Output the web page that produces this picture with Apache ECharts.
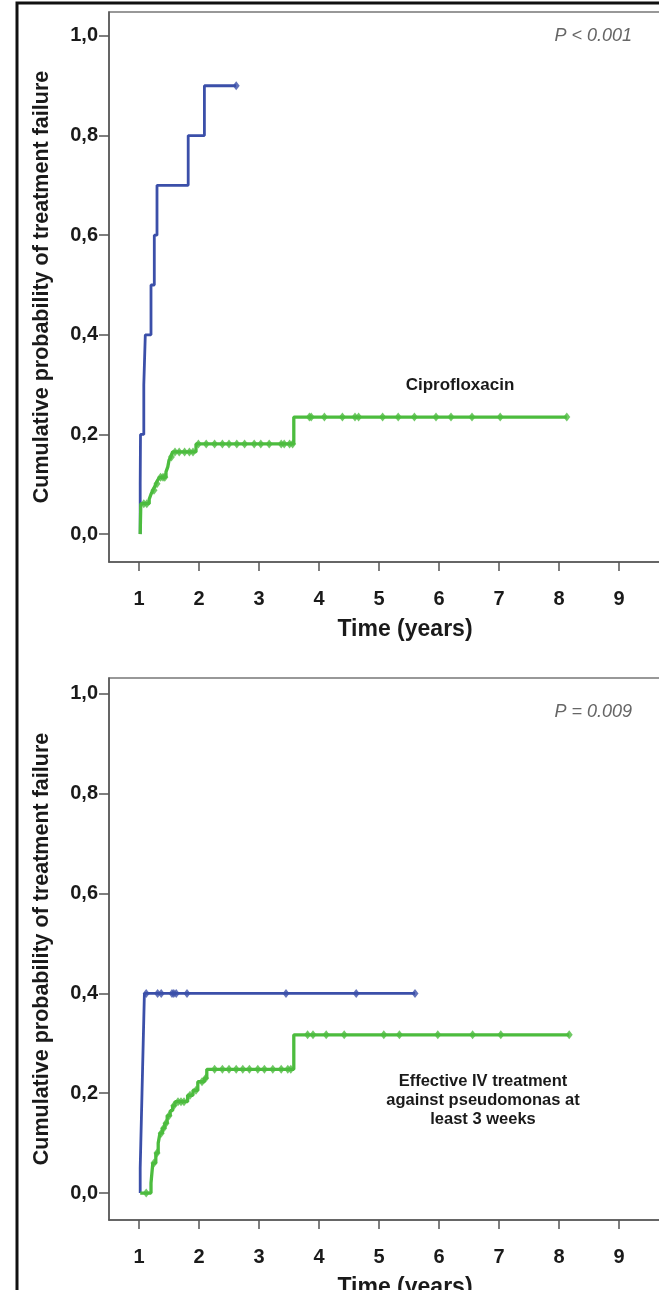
<!DOCTYPE html>
<html>
<head>
<meta charset="utf-8">
<script src="https://cdn.jsdelivr.net/npm/echarts@6.0.0/dist/echarts.min.js"></script>
<style>
html, body { margin: 0; padding: 0; background: #fff; }
#main { width: 659px; height: 1290px; }
</style>
</head>
<body>
<div id="main"></div>
<script>
// tick labels
var xTicks = [1, 2, 3, 4, 5, 6, 7, 8, 9];
var yTicks = [0, 0.2, 0.4, 0.6, 0.8, 1.0];

// top panel (Ciprofloxacin) - blue curve
var blueTopT = [1.02, 1.02, 1.025, 1.08, 1.105, 1.2, 1.255, 1.3, 1.82, 2.09, 2.62];
var blueTopV = [0, 0.1, 0.2, 0.3, 0.4, 0.5, 0.6, 0.7, 0.8, 0.9, 0.9];
var blueTopCensT = [2.62];
var blueTopCensV = [0.9];

// top panel - green curve
var greenTopT = [1.02, 1.03, 1.17, 1.2, 1.23, 1.26, 1.28, 1.31, 1.34, 1.45, 1.48, 1.5, 1.53, 1.56, 1.95, 3.58, 8.13];
var greenTopV = [0, 0.061, 0.07, 0.08, 0.088, 0.095, 0.101, 0.108, 0.114, 0.125, 0.135, 0.148, 0.155, 0.165, 0.181, 0.235, 0.235];
var greenTopCensT = [1.08, 1.13, 1.25, 1.3, 1.36, 1.4, 1.43, 1.54, 1.6, 1.67, 1.76, 1.84, 1.9,
  1.99, 2.12, 2.26, 2.39, 2.5, 2.63, 2.76, 2.92, 3.03, 3.17, 3.37, 3.42, 3.51, 3.56,
  3.84, 3.87, 4.09, 4.39, 4.6, 4.66, 5.06, 5.32, 5.59, 5.95, 6.2, 6.55, 7.02, 8.13];
var greenTopCensV = [0.061, 0.061, 0.088, 0.101, 0.114, 0.114, 0.114, 0.155, 0.165, 0.165, 0.165, 0.165, 0.165,
  0.181, 0.181, 0.181, 0.181, 0.181, 0.181, 0.181, 0.181, 0.181, 0.181, 0.181, 0.181, 0.181, 0.181,
  0.235, 0.235, 0.235, 0.235, 0.235, 0.235, 0.235, 0.235, 0.235, 0.235, 0.235, 0.235, 0.235, 0.235];

// bottom panel (IV treatment) - blue curve
var blueBotT = [1.02, 1.02, 1.03, 1.04, 1.05, 1.06, 1.07, 1.08, 1.09, 5.6];
var blueBotV = [0, 0.05, 0.1, 0.15, 0.2, 0.25, 0.3, 0.35, 0.4, 0.4];
var blueBotCensT = [1.12, 1.31, 1.37, 1.55, 1.58, 1.62, 1.8, 3.45, 4.62, 5.6];
var blueBotCensV = [0.4, 0.4, 0.4, 0.4, 0.4, 0.4, 0.4, 0.4, 0.4, 0.4];

// bottom panel - green curve
var greenBotT = [1.02, 1.2, 1.23, 1.28, 1.32, 1.35, 1.39, 1.43, 1.47, 1.52, 1.56, 1.6, 1.81, 1.9, 1.98, 2.09, 2.13, 3.58, 8.17];
var greenBotV = [0, 0.02, 0.06, 0.08, 0.1, 0.12, 0.13, 0.14, 0.155, 0.165, 0.175, 0.183, 0.196, 0.206, 0.223, 0.23, 0.248, 0.317, 0.317];
var greenBotCensT = [1.12, 1.25, 1.3, 1.37, 1.41, 1.45, 1.5, 1.58, 1.65, 1.7, 1.75, 1.85, 1.95, 2.05, 2.11,
  2.26, 2.39, 2.5, 2.62, 2.73, 2.84, 2.98, 3.09, 3.23, 3.37, 3.48, 3.53,
  3.81, 3.9, 4.12, 4.42, 5.08, 5.34, 5.98, 6.56, 7.03, 8.17];
var greenBotCensV = [0, 0.06, 0.08, 0.12, 0.13, 0.14, 0.155, 0.175, 0.183, 0.183, 0.183, 0.196, 0.206, 0.223, 0.23,
  0.248, 0.248, 0.248, 0.248, 0.248, 0.248, 0.248, 0.248, 0.248, 0.248, 0.248, 0.248,
  0.317, 0.317, 0.317, 0.317, 0.317, 0.317, 0.317, 0.317, 0.317, 0.317];

var BLUE = '#3b4fa9';
var GREEN = '#4cbc3e';
var AXIS = '#555';
var FONT = '"Liberation Sans", Arial, sans-serif';

function pairs(t, v) {
  return t.map(function (x, i) { return [x, v[i]]; });
}

function makeX(idx) {
  return {
    gridIndex: idx, type: 'value', min: 0.5, max: 10,
    axisLine: { show: true, onZero: false, lineStyle: { color: AXIS, width: 1.5 } },
    axisTick: { show: true, length: 9, customValues: xTicks, lineStyle: { color: AXIS, width: 1.5 } },
    axisLabel: { customValues: xTicks, margin: 27, color: '#1a1a1a', fontFamily: FONT, fontWeight: 'bold', fontSize: 20 },
    splitLine: { show: false },
    name: 'Time (years)', nameLocation: 'middle', nameGap: 56,
    nameTextStyle: { color: '#1a1a1a', fontFamily: FONT, fontWeight: 'bold', fontSize: 23, padding: [0, 0, 0, 22] }
  };
}

function makeY(idx, min, max) {
  return {
    gridIndex: idx, type: 'value', min: min, max: max,
    axisLine: { show: true, lineStyle: { color: AXIS, width: 1.5 } },
    axisTick: { show: true, length: 10, customValues: yTicks, lineStyle: { color: AXIS, width: 1.5 } },
    axisLabel: {
      customValues: yTicks, margin: 11, color: '#1a1a1a', fontFamily: FONT, fontWeight: 'bold', fontSize: 20,
      formatter: function (v) { return v.toFixed(1).replace('.', ','); }
    },
    splitLine: { show: false },
    name: 'Cumulative probability of treatment failure', nameLocation: 'middle', nameGap: 56,
    nameTextStyle: { color: '#1a1a1a', fontFamily: FONT, fontWeight: 'bold', fontSize: 21.5 }
  };
}

function stepLine(idx, t, v, color, width) {
  return {
    type: 'line', xAxisIndex: idx, yAxisIndex: idx, step: 'end',
    data: pairs(t, v), symbol: 'none', lineStyle: { color: color, width: width }, z: 3
  };
}

function censor(idx, t, v, color) {
  return {
    type: 'scatter', xAxisIndex: idx, yAxisIndex: idx,
    data: pairs(t, v), symbol: 'diamond', symbolSize: [7, 9],
    itemStyle: { color: color }, z: 4
  };
}

var myChart = echarts.init(document.getElementById('main'));

var option = {
  animation: false,
  backgroundColor: '#fff',
  grid: [
    { left: 109, top: 12, width: 570, height: 550, outerBoundsMode: 'none', show: true, borderColor: '#777', borderWidth: 1.5 },
    { left: 109, top: 678, width: 570, height: 542, outerBoundsMode: 'none', show: true, borderColor: '#777', borderWidth: 1.5 }
  ],
  xAxis: [makeX(0), makeX(1)],
  yAxis: [makeY(0, -0.056, 1.048), makeY(1, -0.054, 1.032)],
  series: [
    stepLine(0, blueTopT, blueTopV, BLUE, 2.8),
    censor(0, blueTopCensT, blueTopCensV, BLUE),
    stepLine(0, greenTopT, greenTopV, GREEN, 3.3),
    censor(0, greenTopCensT, greenTopCensV, GREEN),
    stepLine(1, blueBotT, blueBotV, BLUE, 2.8),
    censor(1, blueBotCensT, blueBotCensV, BLUE),
    stepLine(1, greenBotT, greenBotV, GREEN, 3.3),
    censor(1, greenBotCensT, greenBotCensV, GREEN)
  ],
  graphic: [
    // outer frame
    { type: 'rect', silent: true, z: 100, shape: { x: 17, y: 3, width: 700, height: 1400 },
      style: { fill: 'none', stroke: '#111', lineWidth: 3 } },
    { type: 'text', x: 632, y: 36, z: 50,
      style: { text: 'P < 0.001', fill: '#666', font: 'italic 18px ' + FONT, align: 'right', verticalAlign: 'middle' } },
    { type: 'text', x: 632, y: 712, z: 50,
      style: { text: 'P = 0.009', fill: '#666', font: 'italic 18px ' + FONT, align: 'right', verticalAlign: 'middle' } },
    { type: 'text', x: 460, y: 385, z: 50,
      style: { text: 'Ciprofloxacin', fill: '#1a1a1a', font: 'bold 17px ' + FONT, align: 'center', verticalAlign: 'middle' } },
    { type: 'text', x: 483, y: 1100, z: 50,
      style: { text: 'Effective IV treatment\nagainst pseudomonas at\nleast 3 weeks', fill: '#1a1a1a',
        font: 'bold 16.5px ' + FONT, lineHeight: 19, align: 'center', verticalAlign: 'middle' } }
  ]
};

myChart.setOption(option);
</script>
</body>
</html>
